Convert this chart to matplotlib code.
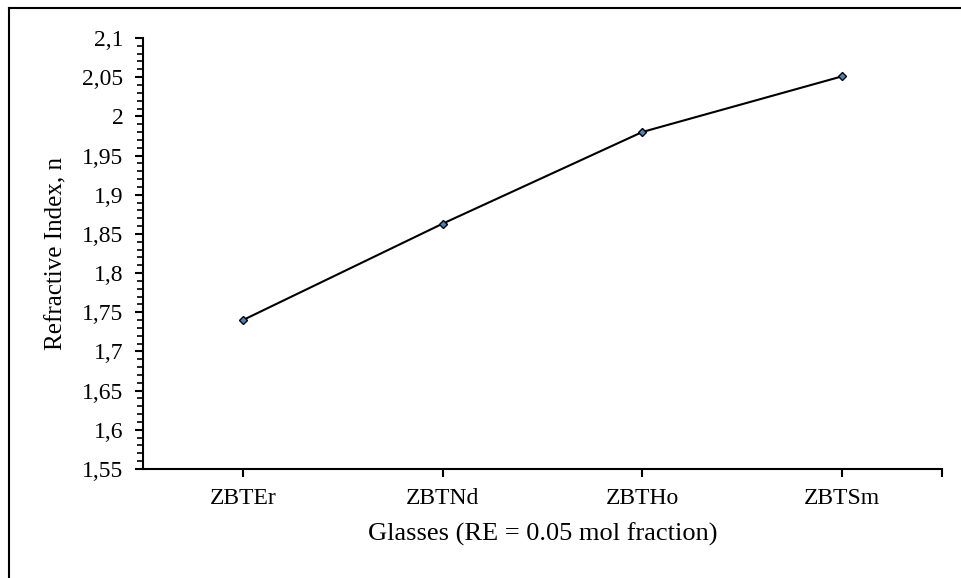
import matplotlib
matplotlib.use('Agg')
from matplotlib import pyplot as plt
from matplotlib.lines import Line2D
from matplotlib.ticker import FixedLocator, MultipleLocator, FuncFormatter

glasses = ['ZBTEr', 'ZBTNd', 'ZBTHo', 'ZBTSm']
refractive_index = [1.740, 1.863, 1.980, 2.051]

plt.rcParams['font.family'] = 'Liberation Serif'
plt.rcParams['font.size'] = 17

fig = plt.figure(figsize=(9.62, 5.78), dpi=100)
ax = fig.add_axes([0.1487, 0.1886, 0.8303, 0.7457])

x = list(range(len(glasses)))
ax.plot(x, refractive_index, color='black', lw=1.5, marker='D', markersize=4.5,
        markerfacecolor='#4F81BD', markeredgecolor='black', markeredgewidth=1)

ax.set_xlim(-0.5, len(glasses) - 0.5)
ax.set_ylim(1.55, 2.1)
ax.set_xticks(x + [len(glasses) - 0.5])
ax.set_xticklabels(glasses + [''])
ax.yaxis.set_major_locator(FixedLocator([1.55 + 0.05 * i for i in range(12)]))
ax.yaxis.set_minor_locator(MultipleLocator(0.01))
ax.yaxis.set_major_formatter(FuncFormatter(lambda v, p: ('%g' % round(v, 2)).replace('.', ',')))

for s in ['top', 'right']:
    ax.spines[s].set_visible(False)
for s in ['left', 'bottom']:
    ax.spines[s].set_linewidth(1.5)
ax.tick_params(axis='y', which='major', direction='out', length=6, width=1.5, pad=8)
ax.tick_params(axis='x', which='major', direction='out', length=6, width=1.5, pad=8)
ax.tick_params(axis='y', which='minor', direction='out', length=4, width=1.2)

ax.set_ylabel('Refractive Index, n', fontsize=18, va='center')
ax.set_xlabel('Glasses (RE = 0.05 mol fraction)', fontsize=19, va='center')
ax.yaxis.set_label_coords(-0.108, 0.5)
ax.xaxis.set_label_coords(0.5, -0.151)

# outer chart border (top and left edges visible)
fig.add_artist(Line2D([0.009, 1.0], [0.986, 0.986], color='black', lw=1.5, transform=fig.transFigure))
fig.add_artist(Line2D([0.009, 0.009], [0.0, 0.986], color='black', lw=1.5, transform=fig.transFigure))

fig.savefig('out.png', dpi=100)
